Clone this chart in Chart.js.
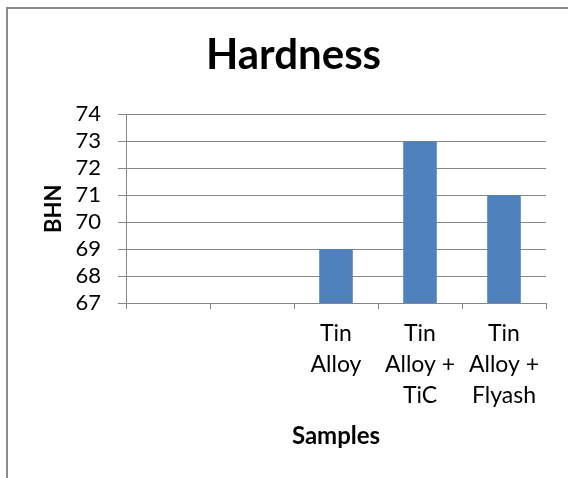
<!DOCTYPE html>
<html>
<head>
<meta charset="utf-8">
<script src="https://cdn.jsdelivr.net/npm/chart.js@4"></script>
<style>
  html, body { margin: 0; padding: 0; background: #ffffff; }
  #wrap { position: relative; width: 568px; height: 478px; overflow: hidden; }
  #frame { position: absolute; left: 6px; top: 7px; width: 700px; height: 600px;
           border-left: 2px solid #8c8c8c; border-top: 2px solid #8c8c8c; }
  canvas { position: absolute; left: 0; top: 0; }
</style>
</head>
<body>
<div id="wrap">
  <div id="frame"></div>
  <canvas id="c" width="568" height="478"></canvas>
</div>
<script>
// Sample categories (first two slots are left empty on the axis)
const categories = ['', '', ['Tin', 'Alloy'], ['Tin', 'Alloy +', 'TiC'], ['Tin', 'Alloy +', 'Flyash']];
// Brinell hardness number per sample
const hardness = [null, null, 69, 73, 71];
// Y axis range and step
const yTicks = { min: 67, max: 74, step: 1 };

const FONT = 'Lato, "Open Sans", sans-serif';
const GREY = '#868686';

new Chart(document.getElementById('c'), {
  type: 'bar',
  data: {
    labels: categories,
    datasets: [{
      label: 'BHN',
      data: hardness,
      backgroundColor: '#4f81bd',
      borderWidth: 0,
      categoryPercentage: 1.0,
      barPercentage: 0.4
    }]
  },
  options: {
    responsive: false,
    animation: false,
    devicePixelRatio: 1,
    layout: { padding: { left: 41, right: 22, top: 0, bottom: 0 } },
    plugins: {
      legend: { display: false },
      tooltip: { enabled: false },
      title: {
        display: true,
        text: 'Hardness',
        color: '#000000',
        font: { family: FONT, size: 42, weight: 'bold', lineHeight: 1.2 },
        padding: { top: 30, bottom: 34 }
      }
    },
    scales: {
      x: {
        grid: { display: true, drawOnChartArea: false, drawTicks: true, tickLength: 6, color: GREY, offset: true },
        border: { display: true, color: GREY, width: 1 },
        ticks: {
          color: '#000000',
          font: { family: FONT, size: 23, lineHeight: 1.35 },
          padding: 9,
          maxRotation: 0,
          autoSkip: false
        },
        title: {
          display: true,
          text: 'Samples',
          color: '#000000',
          font: { family: FONT, size: 24, weight: 'bold', lineHeight: 1.2 },
          padding: { top: 0, bottom: 27 }
        },
        afterFit: (s) => { s.height = 175; }
      },
      y: {
        min: yTicks.min,
        max: yTicks.max,
        grid: { color: GREY, tickLength: 8, drawTicks: true },
        border: { display: true, color: GREY, width: 1 },
        ticks: {
          stepSize: yTicks.step,
          autoSkip: false,
          color: '#000000',
          font: { family: FONT, size: 22 },
          padding: 17
        },
        title: {
          display: true,
          text: 'BHN',
          color: '#000000',
          font: { family: FONT, size: 22, weight: 'bold', lineHeight: 1.2 },
          padding: { top: 0, bottom: 0 }
        },
        afterFit: (s) => { s.width = 85; }
      }
    }
  }
});
</script>
</body>
</html>
